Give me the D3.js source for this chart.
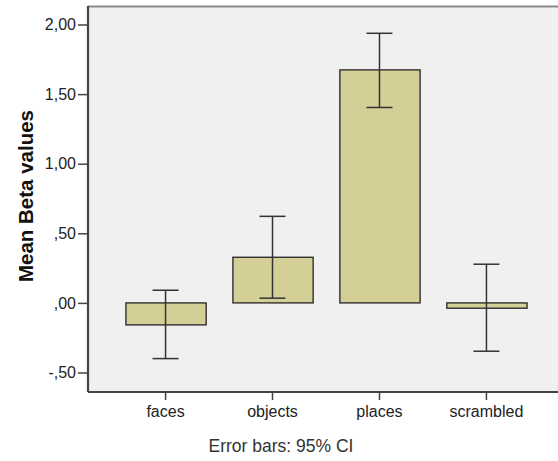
<!DOCTYPE html>
<html><head><meta charset="utf-8">
<script src="https://cdn.jsdelivr.net/npm/d3@7"></script>
<style>body{margin:0;background:#fff}svg{display:block}</style>
</head><body>
<svg id="c" width="558" height="461"></svg>
<script>
const categories = ["faces", "objects", "places", "scrambled"];
const means = [-0.158, 0.328, 1.674, -0.038];
const ciLow = [-0.40, 0.034, 1.404, -0.347];
const ciHigh = [0.091, 0.622, 1.937, 0.278];
const yTicks = [-0.5, 0, 0.5, 1.0, 1.5, 2.0];
const yTickLabels = ["-,50", ",00", ",50", "1,00", "1,50", "2,00"];

const FF = "Liberation Sans, Arial, sans-serif";
const svg = d3.select("#c");
const L = 88, T = 6, B = 392, R = 564;
const y = d3.scaleLinear().domain([-0.64, 2.133]).range([B, T]);
const x = d3.scaleBand().domain(categories).range([L, R]).paddingInner(0.25).paddingOuter(0.35);

svg.append("rect").attr("x", L).attr("y", T).attr("width", R - L).attr("height", B - T).attr("fill", "#f0f0f0");
svg.append("line").attr("x1", L).attr("x2", R).attr("y1", T + 0.5).attr("y2", T + 0.5).attr("stroke", "#8a8a8a").attr("stroke-width", 2);

const g = svg.append("g");
g.selectAll("rect.bar").data(categories).join("rect").attr("class", "bar")
  .attr("x", d => x(d) + 0.5)
  .attr("width", x.bandwidth())
  .attr("y", (d, i) => y(Math.max(0, means[i])))
  .attr("height", (d, i) => Math.abs(y(means[i]) - y(0)))
  .attr("fill", "#d3cf97").attr("stroke", "#222").attr("stroke-width", 1.3);

const eb = g.selectAll("g.eb").data(categories).join("g").attr("class", "eb")
  .attr("transform", d => `translate(${x(d) + x.bandwidth() / 2},0)`);
eb.append("line").attr("y1", (d, i) => y(ciHigh[i])).attr("y2", (d, i) => y(ciLow[i])).attr("stroke", "#333").attr("stroke-width", 1.5);
eb.append("line").attr("x1", -13).attr("x2", 13).attr("y1", (d, i) => y(ciHigh[i])).attr("y2", (d, i) => y(ciHigh[i])).attr("stroke", "#333").attr("stroke-width", 1.5);
eb.append("line").attr("x1", -13).attr("x2", 13).attr("y1", (d, i) => y(ciLow[i])).attr("y2", (d, i) => y(ciLow[i])).attr("stroke", "#333").attr("stroke-width", 1.5);

const yAxis = svg.append("g").attr("transform", `translate(${L},0)`)
  .call(d3.axisLeft(y).tickValues(yTicks).tickFormat((d, i) => yTickLabels[i]).tickSize(10).tickPadding(2));
yAxis.select(".domain").attr("stroke", "#444").attr("stroke-width", 2.2).attr("d", `M0,${T}V${B}`);
yAxis.selectAll(".tick line").attr("stroke", "#444").attr("stroke-width", 1.5);
yAxis.selectAll(".tick text").attr("font-family", FF).attr("font-size", 16).attr("fill", "#222");

const xAxis = svg.append("g").attr("transform", `translate(0,${B})`)
  .call(d3.axisBottom(x).tickSize(8).tickPadding(6));
xAxis.select(".domain").attr("stroke", "#444").attr("stroke-width", 2.2).attr("d", `M${L},0H${R}`);
xAxis.selectAll(".tick line").attr("stroke", "#444").attr("stroke-width", 1.5);
xAxis.selectAll(".tick text").attr("font-family", FF).attr("font-size", 16).attr("fill", "#222");

svg.append("text").attr("x", 281).attr("y", 452).attr("text-anchor", "middle")
  .attr("font-family", FF).attr("font-size", 17.5).attr("fill", "#333")
  .text("Error bars: 95% CI");
svg.append("text").attr("transform", "translate(33,196) rotate(-90)").attr("text-anchor", "middle")
  .attr("font-family", FF).attr("font-size", 20.5).attr("font-weight", "bold").attr("fill", "#111")
  .text("Mean Beta values");
</script>
</body></html>
